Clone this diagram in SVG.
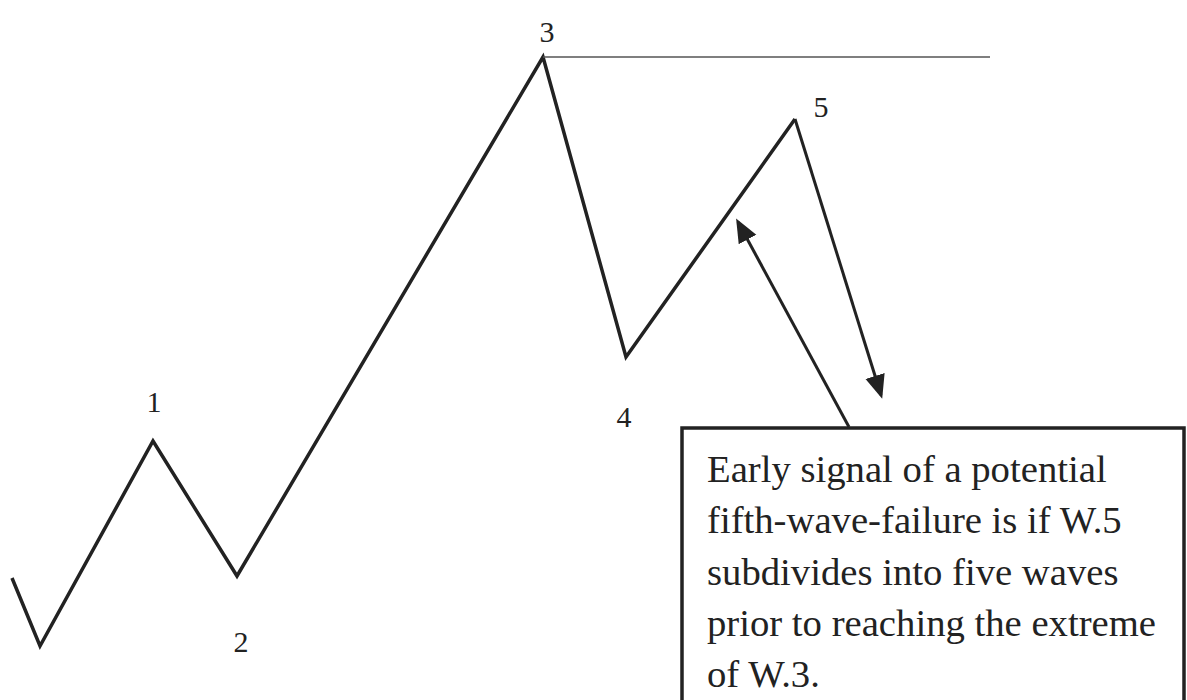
<svg xmlns="http://www.w3.org/2000/svg" width="1187" height="700" viewBox="0 0 1187 700">
<defs>
<style>
.w{fill:none;stroke:#222;stroke-width:3.5;stroke-linejoin:miter}
.lbl{font-family:"Liberation Serif",serif;font-size:30px;fill:#222}
.txt{font-family:"Liberation Serif",serif;font-size:38.7px;fill:#222}
.ar{fill:none;stroke:#222;stroke-width:3}
</style>
<marker id="ahb" viewBox="0 0 24 24" refX="20" refY="12" markerWidth="24" markerHeight="24" orient="auto" markerUnits="userSpaceOnUse">
<path d="M0,2 L24,12 L0,22 Z" fill="#222"/>
</marker>
</defs>
<rect width="1187" height="700" fill="#fff"/>
<g id="waves">
<polyline class="w" points="12,578 40,646 153,441 237,576 543,57 626,357 795,119"/>
<line x1="543" y1="57" x2="990" y2="57" stroke="#555" stroke-width="1.5"/>
</g>
<g id="labels">
<text class="lbl" x="154" y="412" text-anchor="middle">1</text>
<text class="lbl" x="241" y="652" text-anchor="middle">2</text>
<text class="lbl" x="547" y="42" text-anchor="middle">3</text>
<text class="lbl" x="624" y="427" text-anchor="middle">4</text>
<text class="lbl" x="821" y="117" text-anchor="middle">5</text>
</g>
<g id="connectors">
<line class="ar" x1="795" y1="119" x2="881" y2="395" marker-end="url(#ahb)"/>
<line class="ar" x1="849" y1="427" x2="738" y2="222" marker-end="url(#ahb)"/>
</g>
<g id="note">
<rect x="682" y="428" width="502" height="290" fill="#fff" stroke="#222" stroke-width="3.5"/>
<text class="txt" x="707" y="482">Early signal of a potential</text>
<text class="txt" x="707" y="533">fifth-wave-failure is if W.5</text>
<text class="txt" x="707" y="585">subdivides into five waves</text>
<text class="txt" x="707" y="636">prior to reaching the extreme</text>
<text class="txt" x="707" y="687">of W.3.</text>
</g>
</svg>
